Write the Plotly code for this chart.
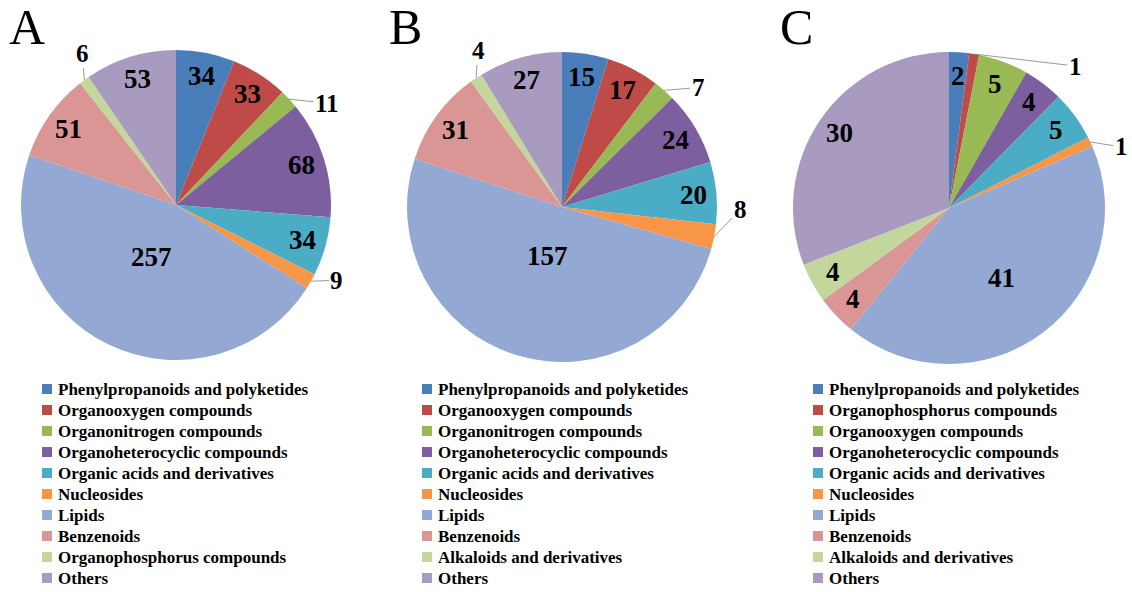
import math
import plotly.graph_objects as go

W, H = 1132, 592

# ---------------- data ----------------
categories_A = [
    "Phenylpropanoids and polyketides", "Organooxygen compounds",
    "Organonitrogen compounds", "Organoheterocyclic compounds",
    "Organic acids and derivatives", "Nucleosides", "Lipids", "Benzenoids",
    "Organophosphorus compounds", "Others",
]
values_A = [34, 33, 11, 68, 34, 9, 257, 51, 6, 53]

categories_B = [
    "Phenylpropanoids and polyketides", "Organooxygen compounds",
    "Organonitrogen compounds", "Organoheterocyclic compounds",
    "Organic acids and derivatives", "Nucleosides", "Lipids", "Benzenoids",
    "Alkaloids and derivatives", "Others",
]
values_B = [15, 17, 7, 24, 20, 8, 157, 31, 4, 27]

categories_C = [
    "Phenylpropanoids and polyketides", "Organophosphorus compounds",
    "Organooxygen compounds", "Organoheterocyclic compounds",
    "Organic acids and derivatives", "Nucleosides", "Lipids", "Benzenoids",
    "Alkaloids and derivatives", "Others",
]
values_C = [2, 1, 5, 4, 5, 1, 41, 4, 4, 30]

panel_letters = ["A", "B", "C"]

# ---------------- style ----------------
palette = ["#4A7EBB", "#BE4B48", "#98B954", "#7D5FA0", "#4BACC6",
           "#F79646", "#93A9D3", "#D99694", "#C3D69B", "#A99BC0"]
FONT = "Liberation Serif, Times New Roman, serif"

panels = [
    dict(cats=categories_A, vals=values_A, cx=176, cy=205, R=155,
         letter_x=7, legend_sq_x=42, legend_tx=56, big_r=0.37,
         outside={2: (38, 4), 5: (26, -1), 8: (-2, -27)}),
    dict(cats=categories_B, vals=values_B, cx=562, cy=207, R=155,
         letter_x=387, legend_sq_x=422, legend_tx=436, big_r=0.33,
         outside={2: (34, -3), 5: (26, -27), 8: (2, -28)}),
    dict(cats=categories_C, vals=values_C, cx=949, cy=208, R=156,
         letter_x=778, legend_sq_x=813, legend_tx=827, big_r=0.56,
         outside={1: (101, 12), 5: (31, 5)}),
]

LEG_Y0, LEG_STEP, SQ = 389, 21, 10


def px(x):
    return x / W


def py(y):
    return 1 - y / H


fig = go.Figure()
annotations = []
shapes = []

for letter, p in zip(panel_letters, panels):
    cx, cy, R = p["cx"], p["cy"], p["R"]
    vals = p["vals"]
    total = sum(vals)
    fig.add_trace(go.Pie(
        labels=p["cats"], values=vals, sort=False, direction="clockwise",
        rotation=0, textinfo="none", showlegend=False,
        marker=dict(colors=palette, line=dict(width=0)),
        domain=dict(x=[px(cx - R), px(cx + R)], y=[py(cy + R), py(cy - R)]),
        hoverinfo="label+value",
    ))

    # data labels
    cum = 0
    vmax = max(vals)
    for i, v in enumerate(vals):
        th = 2 * math.pi * (cum + v / 2) / total
        cum += v
        if i in p["outside"]:
            rx, ry = cx + R * math.sin(th), cy - R * math.cos(th)
            ax, ay = p["outside"][i]
            annotations.append(dict(
                x=px(rx), y=py(ry), xref="paper", yref="paper",
                text="<b>%d</b>" % v, showarrow=True, arrowhead=0,
                arrowwidth=0.8, arrowcolor="#7f7f7f", ax=ax, ay=ay,
                standoff=0,
                font=dict(family=FONT, size=25, color="black"),
            ))
        else:
            fr = p["big_r"] if v == vmax else 0.85
            lx, ly = cx + fr * R * math.sin(th), cy - fr * R * math.cos(th)
            annotations.append(dict(
                x=px(lx), y=py(ly), xref="paper", yref="paper",
                text="<b>%d</b>" % v, showarrow=False,
                xanchor="center", yanchor="middle",
                font=dict(family=FONT, size=27, color="black"),
            ))

    # panel letter
    annotations.append(dict(
        x=px(p["letter_x"]), y=py(27), xref="paper", yref="paper",
        text=letter, showarrow=False, xanchor="left", yanchor="middle",
        font=dict(family=FONT, size=50, color="black"),
    ))

    # legend
    for i, cat in enumerate(p["cats"]):
        yc = LEG_Y0 + i * LEG_STEP
        shapes.append(dict(
            type="rect", xref="paper", yref="paper",
            x0=px(p["legend_sq_x"]), x1=px(p["legend_sq_x"] + SQ),
            y0=py(yc + SQ / 2), y1=py(yc - SQ / 2),
            fillcolor=palette[i], line=dict(width=0),
        ))
        annotations.append(dict(
            x=px(p["legend_tx"]), y=py(yc), xref="paper", yref="paper",
            text="<b>%s</b>" % cat, showarrow=False,
            xanchor="left", yanchor="middle",
            font=dict(family=FONT, size=17, color="black"),
        ))

fig.update_layout(
    width=W, height=H, margin=dict(l=0, r=0, t=0, b=0),
    paper_bgcolor="white", plot_bgcolor="white",
    annotations=annotations, shapes=shapes, showlegend=False,
)

fig.write_html(
    "out.html",
    config={"displayModeBar": False},
    post_script="document.body.style.margin='0px';"
                "document.body.style.overflow='hidden';",
)
